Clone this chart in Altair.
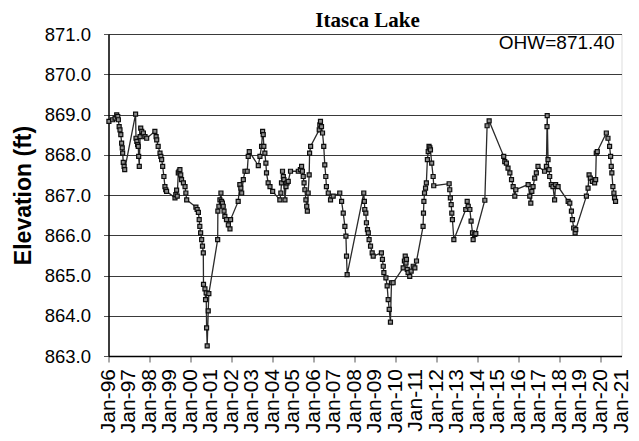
import altair as alt
import pandas as pd

# decimal years (reading position on the Jan-96 .. Jan-21 axis)
dates = [
    1996.02, 1996.20, 1996.32, 1996.40, 1996.45, 1996.48, 1996.52, 1996.56, 1996.60, 1996.64,
    1996.67, 1996.69, 1996.72, 1996.76, 1996.79, 1997.32, 1997.34, 1997.38, 1997.42, 1997.45,
    1997.47, 1997.50, 1997.54, 1997.57, 1997.62, 1997.70, 1997.78, 1997.86, 1998.26, 1998.32,
    1998.35, 1998.42, 1998.51, 1998.55, 1998.59, 1998.64, 1998.70, 1998.75, 1998.79, 1998.83,
    1999.24, 1999.28, 1999.32, 1999.35, 1999.40, 1999.44, 1999.48, 1999.52, 1999.56, 1999.65,
    1999.73, 1999.77, 1999.81, 2000.26, 2000.32, 2000.38, 2000.42, 2000.45, 2000.49, 2000.54,
    2000.58, 2000.62, 2000.63, 2000.70, 2000.73, 2000.76, 2000.78, 2000.81, 2000.86, 2000.89,
    2001.32, 2001.33, 2001.38, 2001.43, 2001.48, 2001.51, 2001.55, 2001.59, 2001.63, 2001.67,
    2001.75, 2001.84, 2001.92, 2001.95, 2002.32, 2002.40, 2002.45, 2002.49, 2002.57, 2002.65,
    2002.76, 2002.81, 2002.86, 2003.30, 2003.38, 2003.46, 2003.51, 2003.54, 2003.57, 2003.62,
    2003.67, 2003.70, 2003.78, 2003.87, 2004.00, 2004.35, 2004.40, 2004.43, 2004.48, 2004.52,
    2004.55, 2004.60, 2004.65, 2004.70, 2004.76, 2004.87, 2005.25, 2005.35, 2005.41, 2005.45,
    2005.49, 2005.53, 2005.57, 2005.62, 2005.66, 2005.69, 2005.73, 2005.78, 2005.80, 2005.85,
    2006.27, 2006.30, 2006.33, 2006.38, 2006.43, 2006.49, 2006.54, 2006.59, 2006.62, 2006.71,
    2006.82, 2006.95, 2007.27, 2007.36, 2007.44, 2007.52, 2007.57, 2007.60, 2007.63, 2008.44,
    2008.47, 2008.49, 2008.54, 2008.57, 2008.62, 2008.66, 2008.70, 2008.77, 2008.85, 2008.90,
    2009.30, 2009.35, 2009.39, 2009.42, 2009.52, 2009.58, 2009.63, 2009.68, 2009.74, 2009.79,
    2009.87, 2010.36, 2010.42, 2010.46, 2010.50, 2010.52, 2010.56, 2010.60, 2010.68, 2010.75,
    2010.85, 2010.93, 2011.01, 2011.33, 2011.35, 2011.37, 2011.40, 2011.45, 2011.49, 2011.54,
    2011.58, 2011.62, 2011.66, 2011.69, 2011.75, 2011.82, 2011.85, 2012.60, 2012.63, 2012.66,
    2012.70, 2012.73, 2012.76, 2012.83, 2013.41, 2013.48, 2013.53, 2013.61, 2013.67, 2013.74,
    2013.77, 2013.85, 2013.90, 2014.34, 2014.45, 2014.55, 2015.26, 2015.31, 2015.39, 2015.47,
    2015.56, 2015.64, 2015.72, 2015.80, 2015.85, 2016.45, 2016.53, 2016.58, 2016.63, 2016.69,
    2016.77, 2016.85, 2016.93, 2017.25, 2017.34, 2017.37, 2017.38, 2017.42, 2017.47, 2017.50,
    2017.58, 2017.66, 2017.74, 2017.79, 2017.91, 2018.40, 2018.48, 2018.56, 2018.61, 2018.67,
    2018.74, 2018.77, 2019.29, 2019.37, 2019.42, 2019.48, 2019.58, 2019.69, 2019.74, 2019.77,
    2019.82, 2020.26, 2020.34, 2020.42, 2020.47, 2020.50, 2020.53, 2020.58, 2020.63, 2020.66,
    2020.71,
]

elevation = [
    868.83, 868.87, 868.91, 868.99, 868.95, 868.87, 868.70, 868.62, 868.50, 868.29,
    868.17, 868.04, 867.81, 867.71, 867.63, 869.01, 868.41, 868.33, 868.25, 868.21,
    867.96, 867.71, 868.45, 868.66, 868.58, 868.54, 868.45, 868.41, 868.58, 868.45,
    868.37, 868.21, 868.04, 867.96, 867.88, 867.71, 867.46, 867.21, 867.13, 867.09,
    866.93, 867.01, 867.12, 866.97, 867.55, 867.59, 867.63, 867.50, 867.38, 867.30,
    867.21, 867.05, 866.88, 866.70, 866.64, 866.57, 866.39, 866.22, 866.06, 865.89,
    865.73, 865.56, 864.78, 864.67, 864.40, 864.57, 863.70, 863.25, 864.12, 864.55,
    865.89, 866.60, 866.72, 866.88, 867.05, 866.84, 866.80, 866.72, 866.60, 866.47,
    866.39, 866.26, 866.16, 866.39, 866.84, 867.26, 867.17, 867.05, 867.38, 867.59,
    867.59, 867.96, 868.08, 867.73, 867.96, 868.21, 868.58, 868.50, 868.21, 868.04,
    867.79, 867.55, 867.30, 867.21, 867.09, 866.88, 867.05, 867.30, 867.59, 867.46,
    867.38, 866.88, 867.21, 867.30, 867.34, 867.59, 867.59, 867.63, 867.71, 867.59,
    867.46, 867.30, 867.13, 866.88, 866.72, 866.60, 867.05, 867.50, 868.04, 868.21,
    868.62, 868.74, 868.83, 868.70, 868.54, 868.21, 867.75, 867.46, 867.21, 867.05,
    866.88, 866.97, 867.05, 866.84, 866.55, 866.22, 865.98, 865.48, 865.02, 867.05,
    866.84, 866.64, 866.55, 866.31, 866.14, 866.06, 865.89, 865.73, 865.56, 865.48,
    865.56, 865.40, 865.23, 865.07, 864.94, 864.74, 864.40, 864.16, 863.84, 864.82,
    864.82, 865.19, 865.36, 865.48, 865.31, 865.40, 865.15, 865.07, 864.98, 865.11,
    865.23, 865.19, 865.36, 866.22, 866.55, 866.84, 867.05, 867.17, 867.30, 867.88,
    868.08, 868.21, 868.17, 868.12, 867.79, 867.46, 867.23, 867.28, 867.13, 866.93,
    866.76, 866.55, 866.39, 865.89, 866.64, 866.84, 866.72, 866.64, 866.35, 866.06,
    865.89, 866.02, 866.04, 866.87, 868.72, 868.84, 867.96, 867.83, 867.79, 867.67,
    867.55, 867.38, 867.21, 866.97, 867.13, 867.26, 866.97, 866.80, 867.09, 867.21,
    867.42, 867.55, 867.71, 867.59, 867.71, 868.70, 868.97, 867.88, 867.63, 867.46,
    867.26, 867.21, 866.88, 867.26, 867.21, 866.84, 866.80, 866.60, 866.39, 866.18,
    866.06, 866.14, 866.97, 867.17, 867.50, 867.42, 867.34, 867.30, 867.38, 868.04,
    868.08, 868.54, 868.41, 868.21, 867.96, 867.71, 867.55, 867.21, 867.05, 866.93,
    866.84,
]

year_ticks = list(range(1996, 2022))
year_labels = ["Jan-%02d" % (y % 100) for y in year_ticks]
elev_ticks = [863, 864, 865, 866, 867, 868, 869, 870, 871]
ohw_label = ["OHW=871.40"]
title_text = ["Itasca Lake"]

df = pd.DataFrame({"date": dates, "elev": elevation})
ann = pd.DataFrame({"date": [2021], "elev": [871.0], "label": ohw_label})
ttl = pd.DataFrame({"label": title_text})
xlab = pd.DataFrame({"date": year_ticks, "label": year_labels})

x_scale = alt.Scale(domain=[1996, 2021], nice=False, zero=False)
y_scale = alt.Scale(domain=[863, 871], nice=False, zero=False)

x_axis = alt.Axis(
    values=year_ticks,
    tickCount=25,
    labels=False,
    tickColor="#555555",
    tickSize=6,
    domainColor="black",
    domainWidth=1.5,
    grid=False,
    title=None,
)
y_axis = alt.Axis(
    values=elev_ticks,
    format=".1f",
    labelFont="Liberation Sans",
    labelFontSize=18.5,
    labelColor="black",
    labelPadding=13,
    labelOverlap=False,
    tickColor="#555555",
    tickSize=5,
    domainColor="black",
    domainWidth=1.5,
    grid=True,
    gridColor="#3a3a3a",
    gridWidth=1,
    gridOpacity=1,
    title="Elevation (ft)",
    titleFont="Liberation Sans",
    titleFontSize=23,
    titleFontWeight="bold",
    titleColor="black",
    titlePadding=9,
)

x_enc = alt.X("date:Q", scale=x_scale, axis=x_axis)
y_enc = alt.Y("elev:Q", scale=y_scale, axis=y_axis)

line = alt.Chart(df).mark_line(color="#2a2a2a", strokeWidth=1.3).encode(x=x_enc, y=y_enc)
points = alt.Chart(df).mark_point(
    shape="square", size=16, filled=True, fill="#8c8c8c", stroke="#0d0d0d",
    strokeWidth=1.2, opacity=1,
).encode(x=x_enc, y=y_enc)
text = alt.Chart(ann).mark_text(
    align="right", baseline="top", font="Liberation Sans", fontSize=19,
    color="black", dx=-7, dy=0,
).encode(x=x_enc, y=y_enc, text="label:N")
xlabels = alt.Chart(xlab).mark_text(
    align="right", baseline="middle", angle=270, font="Liberation Sans", fontSize=21,
    color="black",
).encode(x=x_enc, y=alt.value(335), text="label:N")
title_mark = alt.Chart(ttl).mark_text(
    align="center", baseline="alphabetic", font="Liberation Serif", fontSize=21,
    fontWeight="bold", color="black",
).encode(x=alt.value(259), y=alt.value(-7), text="label:N")

chart = (
    alt.layer(line, points, text, xlabels, title_mark)
    .properties(
        width=513,
        height=322,
        autosize=alt.AutoSizeParams(type="none"),
        padding={"left": 100.5, "top": 26, "right": 9.5, "bottom": 77},
    )
    .configure_view(stroke="black", strokeWidth=1.5)
    .configure(background="white")
)

chart.save("out.html", embed_options={"renderer": "svg", "actions": False})
